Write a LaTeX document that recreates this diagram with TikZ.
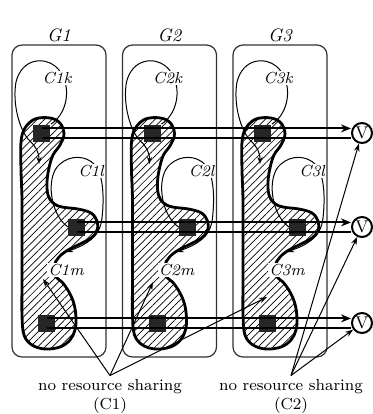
\documentclass[tikz,border=0pt]{standalone}
\usepackage{tikz}
\usetikzlibrary{arrows.meta,calc,patterns.meta}
\tikzset{
  grp/.style   = {rectangle, rounded corners=5pt, draw=black!80, line width=0.6pt,
                  minimum width=47pt, minimum height=156pt, inner sep=0pt},
  glab/.style  = {font=\fontsize{9}{10}\selectfont\itshape, inner sep=1pt},
  clab/.style  = {font=\fontsize{8}{9}\selectfont\itshape, fill=white, inner sep=0.6pt},
  blob/.style  = {draw=black, line width=1.4pt,
                  pattern={Lines[angle=45, distance=2.6pt, line width=0.35pt]}},
  sq/.style    = {rectangle, fill=black!85, minimum size=8.5pt, inner sep=0pt},
  vtx/.style   = {circle, draw, line width=1pt, fill=white, minimum size=10pt,
                  inner sep=0pt, font=\fontsize{8.5}{9}\selectfont},
  cyc/.style   = {line width=0.5pt, -{Stealth[length=3.5pt, width=2.6pt]}},
  bus/.style   = {line width=1pt},
  busa/.style  = {bus, -{Stealth[length=5pt, width=4pt]}},
  note/.style  = {align=center, font=\fontsize{8}{9.5}\selectfont, inner sep=1.5pt},
  ptr/.style   = {line width=0.5pt, -{Stealth[length=4pt, width=2.8pt]}},
}

\begin{document}
\begin{tikzpicture}[x=0.5pt, y=-0.5pt]
  \useasboundingbox (0,0) rectangle (373,414);
  \foreach \g/\dx in {1/0,2/110.5,3/221} {
    \begin{scope}[shift={(\dx,0)}]
      \node[grp, label={[glab]above:G\g}] (g\g) at (59,201) {};
      \draw[blob] plot[smooth cycle, tension=0.6] coordinates {
        (21,142) (25,128) (35,119) (50,118) (60,123) (64,134) (60,145) (53,155)
        (49,168) (47,182) (48,195) (53,203) (62,207) (78,209) (91,213) (97,221)
        (97,231) (91,238) (80,244) (68,250) (59,257) (54,266) (55,276) (62,282)
        (69,292) (74,304) (76,318) (75,330) (70,340) (60,347) (45,349) (32,345)
        (24,335) (22,315) (22,280) (22,240) (22,200) (21,170)};
      \node[sq] (k\g) at (42,133) {};
      \node[sq] (l\g) at (77,227) {};
      \node[sq] (m\g) at (47,323) {};
      \draw[cyc] (k\g.north east) .. controls (70,112) and (72,80) .. (55,66)
        .. controls (44,57) and (22,58) .. (16,82)
        .. controls (12,104) and (20,132) .. (30,141)
        .. controls (36,147) and (39,152) .. (39,164);
      \draw[cyc] (l\g.west) .. controls (50,215) and (45,176) .. (60,164)
        .. controls (70,155) and (86,155) .. (95,165)
        .. controls (104,176) and (104,200) .. (102,218)
        .. controls (100,238) and (85,245) .. (66,252);
      \node[clab] (ck\g) at (57,78) {C\g k};
      \node[clab] (cl\g) at (91,171) {C\g l};
      \node[clab] (cm\g) at (66,270) {C\g m};
    \end{scope}
  }
  \node[vtx] (v1) at (362,133) {V};
  \node[vtx] (v2) at (362,227) {V};
  \node[vtx] (v3) at (362,323) {V};
  \foreach \r/\s in {1/k,2/l,3/m} {
    \draw[busa] ([yshift=2.3pt]\s1.center) -- ([yshift=2.3pt]v\r.west);
    \draw[bus] ([yshift=-2.3pt]\s1.center) -- ([yshift=-2.3pt]v\r.west);
  }
  \node[note] (c1) at (110,396) {no resource sharing\\(C1)};
  \node[note] (c2) at (291,396) {no resource sharing\\(C2)};
  \coordinate (t1) at (43,279);
  \coordinate (t2) at (153,282);
  \coordinate (t3) at (267,297);
  \foreach \i in {1,2,3} \draw[ptr] (c1.north) -- (t\i);
  \foreach \i in {1,2,3} \draw[ptr] (c2.north) -- (v\i);
\end{tikzpicture}
\end{document}
